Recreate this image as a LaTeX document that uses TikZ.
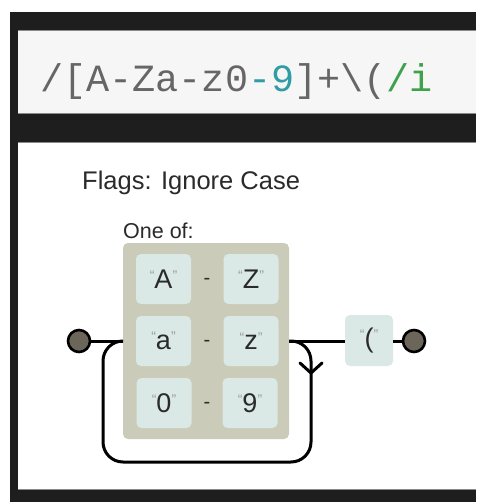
\documentclass[tikz,border=0pt]{standalone}
\usepackage{fontspec}
\setmainfont{Liberation Sans}
\newfontfamily\codefont{Liberation Mono}
\definecolor{darkbg}{HTML}{1E1E1E}
\definecolor{codebg}{HTML}{F6F6F6}
\definecolor{edgegray}{HTML}{8A8A8A}
\definecolor{codegray}{HTML}{666666}
\definecolor{codeteal}{HTML}{2F9DA3}
\definecolor{codegreen}{HTML}{3DA24A}
\definecolor{grptan}{HTML}{CBCBBA}
\definecolor{litbox}{HTML}{DAE9E5}
\definecolor{termfill}{HTML}{6B6659}
\definecolor{txtdark}{HTML}{2A2A2A}
\definecolor{qgray}{HTML}{9A9A9A}
\newcommand{\qmark}[1]{{\fontsize{14}{14}\selectfont\color{qgray}\raisebox{7.5pt}{#1}}}
\newcommand{\lit}[1]{\qmark{“}#1\qmark{”}}
\begin{document}
\begin{tikzpicture}[x=1pt,y=-1pt,
  rail/.style={line width=3pt,black},
  litnode/.style={fill=litbox,rounded corners=5pt,minimum width=55pt,minimum height=50pt,inner sep=0pt,
    font=\fontsize{27}{27}\selectfont,text=txtdark},
  termnode/.style={circle,fill=termfill,draw=black,line width=2.6pt,minimum size=22pt,inner sep=0pt},
  dashnode/.style={font=\fontsize{20}{20}\selectfont,text=txtdark,inner sep=0pt}]
\useasboundingbox (0,0) rectangle (476,502);
% frame
\fill[white] (0,0) rectangle (476,502);
\fill[darkbg] (10,12) rectangle (476,502);
\fill[codebg] (17.5,31) rectangle (476,114);
\draw[edgegray,line width=1pt] (17.5,31) -- (476,31);
\draw[edgegray,line width=1pt] (17.5,114) -- (476,114);
\fill[white] (17.5,143) rectangle (476,489.5);
\draw[edgegray,line width=1pt] (17.5,143) -- (476,143);
\draw[edgegray,line width=1pt] (17.5,489.5) -- (476,489.5);
% code
\node[anchor=base west,inner sep=0pt,font=\codefont\fontsize{38.5}{38.5}\selectfont,text=codegray] (code) at (40,92)
  {/[A-Za-z0{\color{codeteal}-9}]+\textbackslash({\color{codegreen}/i}};
% labels
\node[anchor=base west,inner sep=0pt,font=\fontsize{25.5}{25.5}\selectfont,text=txtdark] (flags) at (82,190) {Flags: Ignore Case};
\node[anchor=base west,inner sep=0pt,font=\fontsize{21.5}{21.5}\selectfont,text=txtdark] (oneof) at (123,238) {One of:};
% group
\node[fill=grptan,rounded corners=5pt,minimum width=166pt,minimum height=196pt,inner sep=0pt] (grp) at (206,341) {};
\node[litnode] (A) at (163.5,279) {\lit{A}};
\node[litnode] (Z) at (251,279) {\lit{Z}};
\node[litnode] (a) at (163.5,341) {\lit{a}};
\node[litnode] (z) at (251,341) {\lit{z}};
\node[litnode] (n0) at (164,403) {\lit{0}};
\node[litnode] (n9) at (250,403) {\lit{9}};
\node[dashnode] (d1) at (207,281) {-};
\node[dashnode] (d2) at (207,343) {-};
\node[dashnode] (d3) at (207,405) {-};
% terminals and paren
\node[termnode] (ls) at (79,341) {};
\node[termnode] (rs) at (414,341) {};
\node[litnode,minimum width=48pt,minimum height=51pt] (lp) at (369,340.5) {\lit{(}};
% rails
\draw[rail] (ls) -- (grp.west);
\draw[rail] (grp.east) -- (lp.west |- grp.east);
\draw[rail] (lp.east |- rs) -- (rs);
\coordinate (lpR) at (311,462);
\coordinate (lpL) at (103,341);
\draw[rail,rounded corners=20pt] (grp.east) -| (lpR) -| (lpL) -- (grp.west);
\coordinate (arrTip) at (311,373);
\draw[rail,line cap=round] ([shift={(-11,-10)}]arrTip) -- (arrTip) -- ([shift={(11,-10)}]arrTip);
\end{tikzpicture}
\end{document}
